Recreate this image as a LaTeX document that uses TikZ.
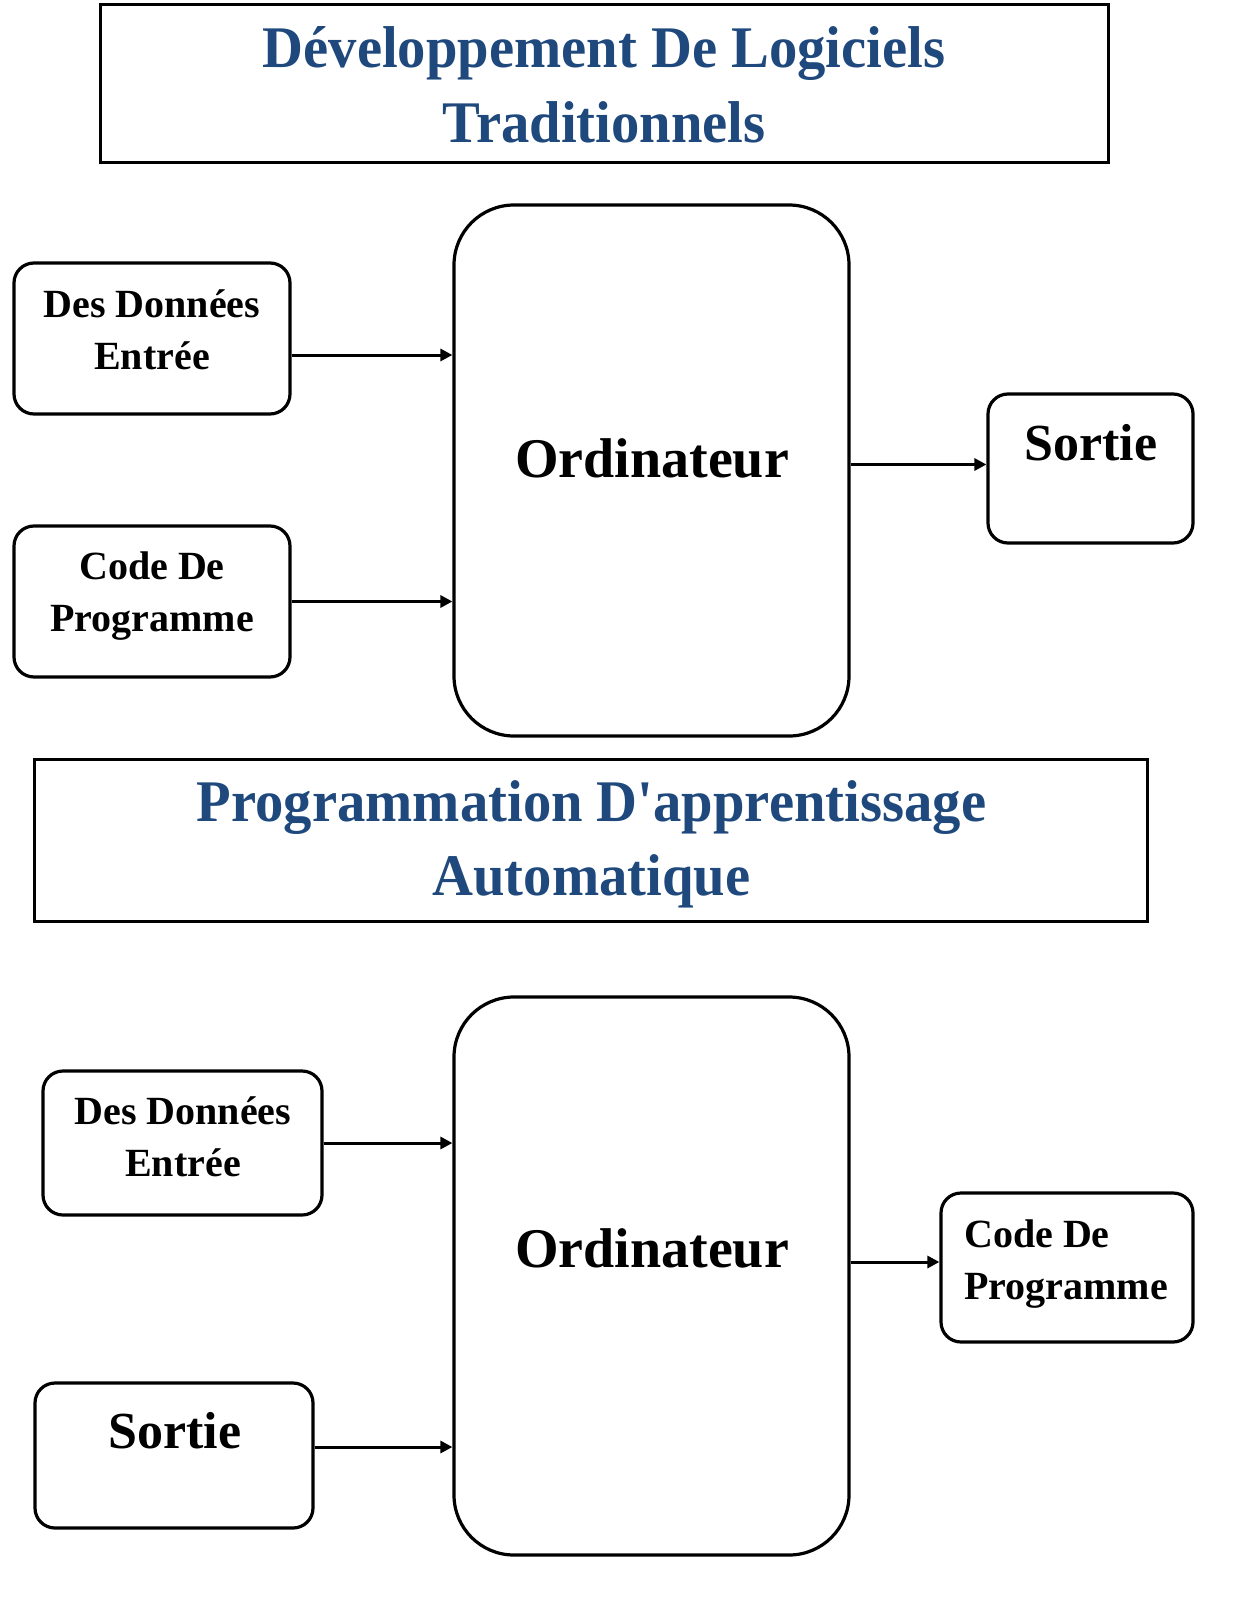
\documentclass[tikz,border=0pt]{standalone}
\usepackage{fontspec}
\setmainfont{Liberation Serif}
\newfontfamily\titlefont{Liberation Serif}[FakeStretch=0.96]
\usetikzlibrary{arrows.meta}
\definecolor{titleblue}{RGB}{31,73,125}
\begin{document}
\begin{tikzpicture}
[x=1pt,y=-1pt,
box/.style={draw=black,line width=3.2pt,rounded corners=20pt,inner sep=0pt},
bigbox/.style={box,rounded corners=60pt},
titlebox/.style={draw=black,line width=3pt,inner sep=0pt},
titletext/.style={text=titleblue,font=\titlefont\bfseries\fontsize{59}{75}\selectfont,align=center,inner sep=0pt},
boxtext/.style={font=\bfseries\fontsize{40}{52}\selectfont,align=center,inner sep=0pt},
bigtext/.style={font=\bfseries\fontsize{56}{60}\selectfont,inner sep=0pt,anchor=base},
outtext/.style={font=\bfseries\fontsize{52}{56}\selectfont,inner sep=0pt,anchor=base},
arr/.style={line width=3pt,-{Triangle[length=12pt,width=12pt]}}]
					\useasboundingbox (0,0) rectangle (1240,1605);
					\node[titlebox,minimum width=1008pt,minimum height=158pt] (title1) at (604,84) {};
					\node[titletext] (title1t) at (604,85) {Développement De Logiciels\\Traditionnels};
					\node[bigbox,minimum width=395pt,minimum height=531pt] (comp1) at (651.5,470.5) {};
					\node[bigtext] (comp1t) at (652,477) {Ordinateur};
					\node[box,minimum width=276pt,minimum height=151pt] (dd1) at (152,338.5) {};
					\node[boxtext] (dd1t) at (152,330) {Des Données\\Entrée};
					\node[box,minimum width=276pt,minimum height=151pt] (code1) at (152,601.5) {};
					\node[boxtext] (code1t) at (152,596.5) {Code De\\Programme};
					\node[box,minimum width=205pt,minimum height=149pt] (sortie1) at (1090.5,468.5) {};
					\node[outtext] (sortie1t) at (1091,460) {Sortie};
					\coordinate (p1) at ([yshift=-16.5pt]dd1.east);
					\coordinate (p2) at ([yshift=6pt]comp1.east);
					\path (p1) edge[arr] (p1 -| comp1.west);
					\path (code1.east) edge[arr] (code1.east -| comp1.west);
					\path (p2) edge[arr] (p2 -| sortie1.west);
					\node[titlebox,minimum width=1113pt,minimum height=162pt] (title2) at (590.5,840) {};
					\node[titletext,font=\titlefont\bfseries\fontsize{59}{74}\selectfont] (title2t) at (591.5,844.5) {Programmation D'apprentissage\\Automatique};
					\node[bigbox,minimum width=395pt,minimum height=558pt] (comp2) at (651.5,1276) {};
					\node[bigtext] (comp2t) at (652,1267) {Ordinateur};
					\node[box,minimum width=279pt,minimum height=144pt] (dd2) at (182.5,1143) {};
					\node[boxtext] (dd2t) at (183,1137) {Des Données\\Entrée};
					\node[box,minimum width=278pt,minimum height=145pt] (sortie2) at (174,1455.5) {};
					\node[outtext] (sortie2t) at (175,1448) {Sortie};
					\node[box,minimum width=252pt,minimum height=149pt] (code2) at (1067,1267.5) {};
					\node[boxtext,align=left,anchor=west] (code2t) at (964,1264.5) {Code De\\Programme};
					\coordinate (p3) at ([yshift=8.5pt]sortie2.east);
					\coordinate (p4) at ([yshift=14pt]comp2.east);
					\path (dd2.east) edge[arr] (dd2.east -| comp2.west);
					\path (p3) edge[arr] (p3 -| comp2.west);
					\path (p4) edge[arr] (p4 -| code2.west);
				\end{tikzpicture}
\end{document}
